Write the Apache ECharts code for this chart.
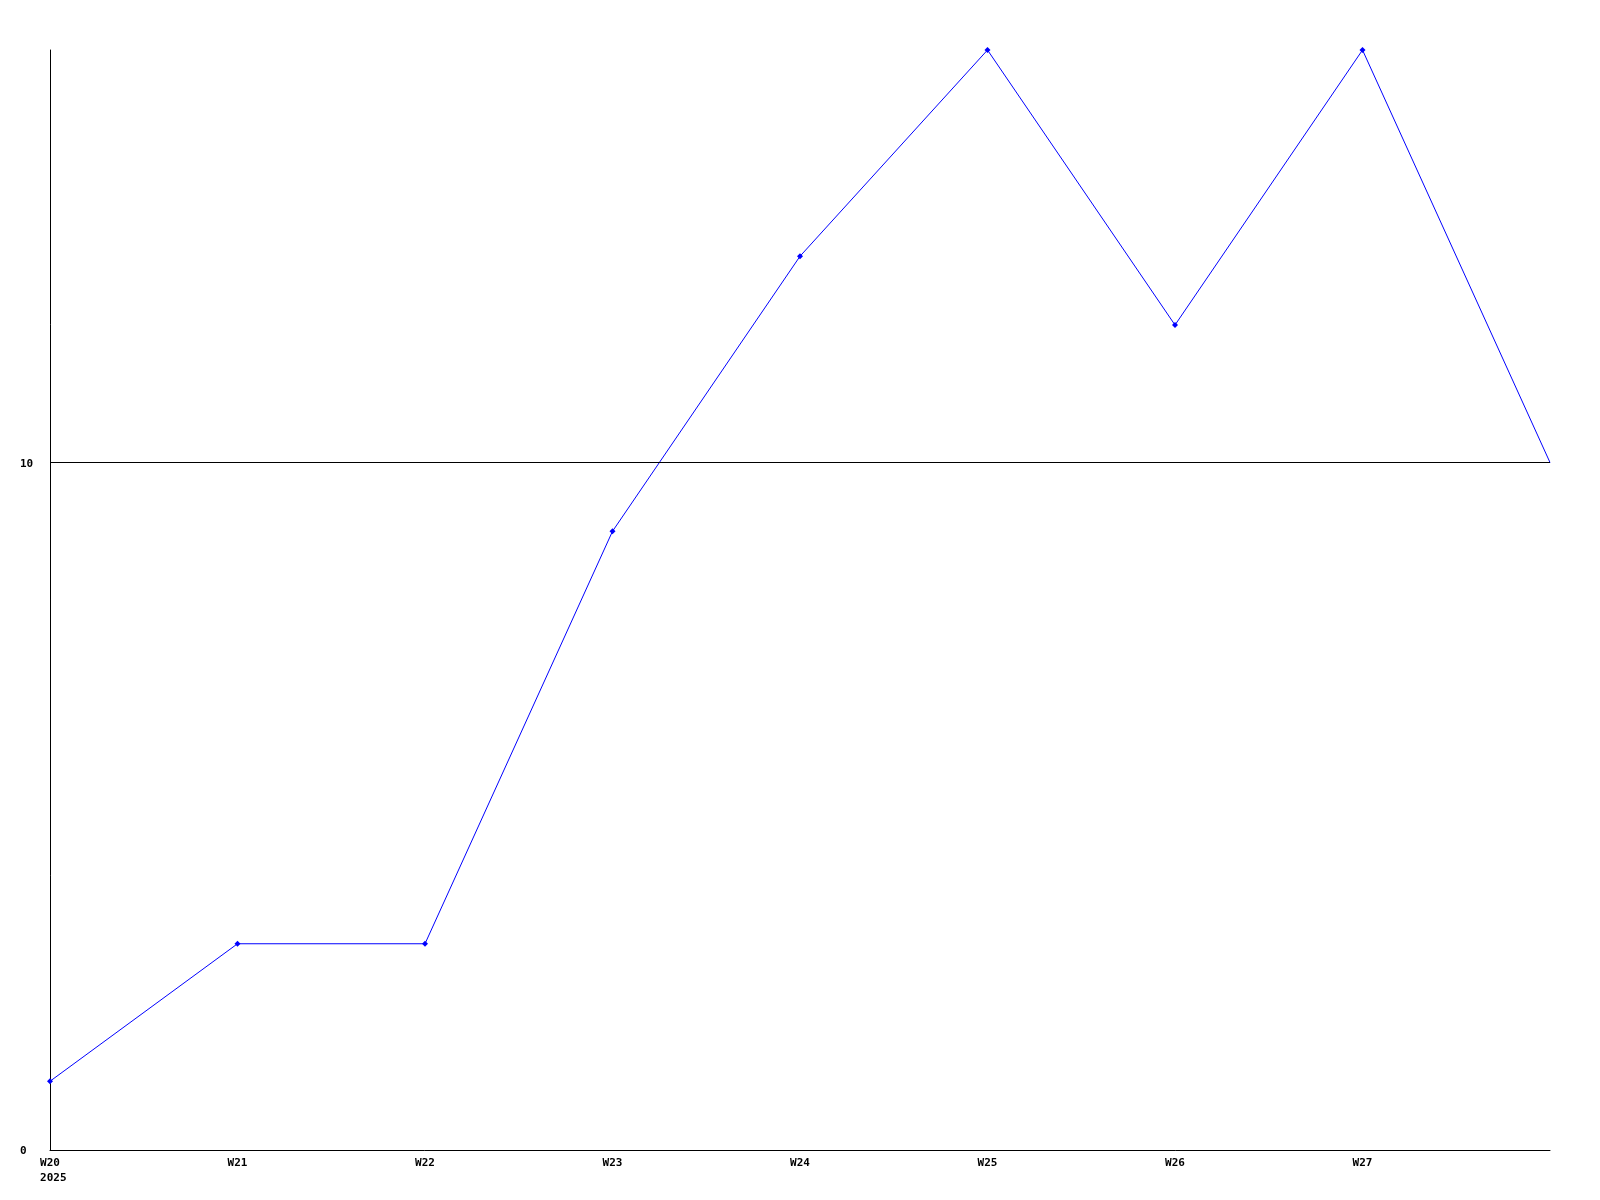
<!DOCTYPE html>
<html>
<head>
<meta charset="utf-8">
<script src="https://cdn.jsdelivr.net/npm/echarts@6/dist/echarts.min.js"></script>
<style>html,body{margin:0;padding:0;background:#fff}#c{width:1600px;height:1200px}</style>
</head>
<body>
<div id="c"></div>
<script>
const categories = ['W20', 'W21', 'W22', 'W23', 'W24', 'W25', 'W26', 'W27', 'W28'];
const tickLabels = ['W20\n 2025', 'W21', 'W22', 'W23', 'W24', 'W25', 'W26', 'W27', ''];
const values = [1, 3, 3, 9, 13, 16, 12, 16, 10];
const yMin = 0, yMax = 16, yInterval = 10;
const refLine = 10;

const font = { fontFamily: 'DejaVu Sans Mono', fontWeight: 'bold', fontSize: 11, color: '#000' };
const chart = echarts.init(document.getElementById('c'), null, { renderer: 'canvas' });
chart.setOption({
  animation: false,
  backgroundColor: '#fff',
  grid: { left: 50, right: 50, top: 50, bottom: 50, containLabel: false },
  xAxis: {
    type: 'category', data: categories, boundaryGap: false,
    axisLine: { lineStyle: { color: '#000', width: 1 } },
    axisTick: { show: false },
    splitLine: { show: false },
    axisLabel: Object.assign({}, font, {
      margin: 6, lineHeight: 15, align: 'center',
      formatter: (v, i) => tickLabels[i]
    })
  },
  yAxis: {
    type: 'value', min: yMin, max: yMax, interval: yInterval,
    axisLine: { show: true, lineStyle: { color: '#000', width: 1 } },
    axisTick: { show: false },
    splitLine: { show: false },
    axisLabel: Object.assign({}, font, {
      margin: 30, align: 'left', verticalAlign: 'top', lineHeight: 11, padding: [-4, 0, 0, 0],
      formatter: v => (v % yInterval === 0 ? String(v) : '')
    })
  },
  series: [{
    type: 'line', data: values,
    symbol: (v, p) => (p.dataIndex === values.length - 1 ? 'none' : 'diamond'),
    symbolSize: 6, showSymbol: true,
    lineStyle: { color: '#0000ff', width: 1 },
    itemStyle: { color: '#0000ff' },
    markLine: {
      silent: true, symbol: 'none', label: { show: false },
      lineStyle: { color: '#000', width: 1, type: 'solid' },
      data: [{ yAxis: refLine }]
    },
    z: 3
  }]
});
</script>
</body>
</html>
